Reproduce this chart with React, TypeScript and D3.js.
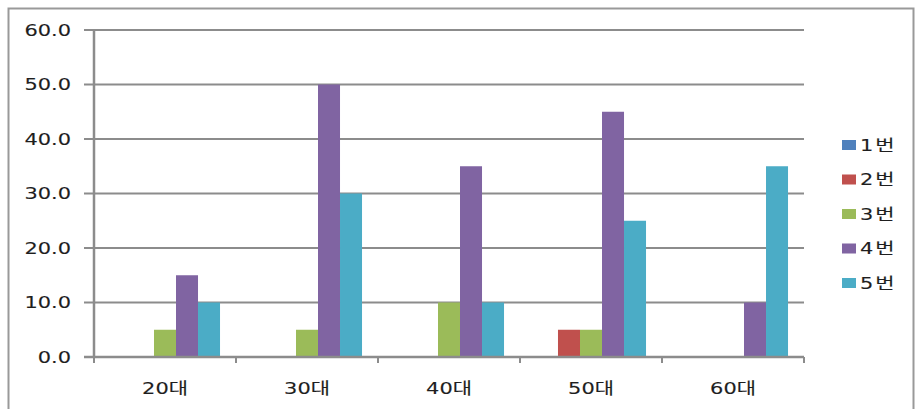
import React from "react";
import * as d3 from "d3";

const categories = ["20대", "30대", "40대", "50대", "60대"];
const seriesNames = ["1번", "2번", "3번", "4번", "5번"];
const seriesColors = ["#4F81BD", "#C0504D", "#9BBB59", "#8064A2", "#4BACC6"];
const s1 = [0, 0, 0, 0, 0];
const s2 = [0, 0, 0, 5, 0];
const s3 = [5, 5, 10, 5, 0];
const s4 = [15, 50, 35, 45, 10];
const s5 = [10, 30, 10, 25, 35];
const seriesValues = [s1, s2, s3, s4, s5];
const yTicks = [0, 10, 20, 30, 40, 50, 60];

const W = 916;
const H = 409;
const plot = { left: 94, right: 804, top: 30, bottom: 357 };
const font = "'DejaVu Sans', 'Noto Sans CJK KR', sans-serif";
const gridColor = "#8c8c8c";
const textColor = "#1e1e1e";
const stretch = 1.35;

type LabelProps = {
  x: number;
  y: number;
  anchor?: "start" | "middle" | "end";
  spacing?: number;
  children: React.ReactNode;
};

// Wide label text used throughout the chart
function Label({ x, y, anchor = "start", spacing = 0, children }: LabelProps) {
  return (
    <text
      transform={`translate(${x},${y}) scale(${stretch},1)`}
      textAnchor={anchor}
      dy="0.36em"
      fontSize={15.5}
      letterSpacing={spacing}
      fill={textColor}
      stroke={textColor}
      strokeWidth={0.12}
    >
      {children}
    </text>
  );
}

export default function App() {
  const x = d3
    .scaleBand<string>()
    .domain(categories)
    .range([plot.left, plot.right])
    .paddingInner(0)
    .paddingOuter(0);
  const groupW = x.bandwidth() * 0.775;
  const xs = d3
    .scaleBand<string>()
    .domain(seriesNames)
    .range([0, groupW])
    .padding(0);
  const y = d3.scaleLinear().domain([0, 60]).range([plot.bottom, plot.top]);

  const tickXs = categories.map((c) => x(c) as number).concat([plot.right]);

  return (
    <svg
      width={W}
      height={H}
      style={{ position: "absolute", left: 0, top: 0, background: "#fff" }}
      fontFamily={font}
    >
      <rect x={0} y={0} width={W} height={H} fill="#fff" />
      {/* outer chart frame */}
      <rect x={8.5} y={8.5} width={905} height={420} fill="none" stroke="#999" strokeWidth={2} />

      {/* horizontal gridlines and y tick labels */}
      {yTicks.map((t) => (
        <g key={t}>
          <line x1={plot.left - 10} x2={plot.right} y1={y(t)} y2={y(t)} stroke={gridColor} strokeWidth={2} />
          <Label x={71} y={y(t)} anchor="end">
            {t.toFixed(1)}
          </Label>
        </g>
      ))}

      {/* bars */}
      {categories.map((c, ci) => {
        const gx = (x(c) as number) + (x.bandwidth() - groupW) / 2;
        return (
          <g key={c}>
            {seriesNames.map((s, si) => {
              const v = seriesValues[si][ci];
              if (v <= 0) return null;
              return (
                <rect
                  key={s}
                  x={gx + (xs(s) as number)}
                  y={y(v)}
                  width={xs.bandwidth()}
                  height={y(0) - y(v)}
                  fill={seriesColors[si]}
                />
              );
            })}
          </g>
        );
      })}

      {/* axes */}
      <line x1={plot.left} x2={plot.left} y1={plot.top} y2={plot.bottom} stroke={gridColor} strokeWidth={2.5} />
      <line x1={plot.left - 10} x2={plot.right} y1={plot.bottom} y2={plot.bottom} stroke={gridColor} strokeWidth={2.5} />
      {tickXs.map((tx, i) => (
        <line key={i} x1={tx} x2={tx} y1={plot.bottom} y2={plot.bottom + 6} stroke={gridColor} strokeWidth={2} />
      ))}
      {categories.map((c) => (
        <Label key={c} x={(x(c) as number) + x.bandwidth() / 2} y={388} anchor="middle">
          {c}
        </Label>
      ))}

      {/* legend */}
      {seriesNames.map((s, i) => {
        const ly = 145 + i * 34.5;
        return (
          <g key={s}>
            <rect x={842} y={ly - 5} width={14} height={10} fill={seriesColors[i]} />
            <Label x={860} y={ly} spacing={1.5}>
              {s}
            </Label>
          </g>
        );
      })}
    </svg>
  );
}
